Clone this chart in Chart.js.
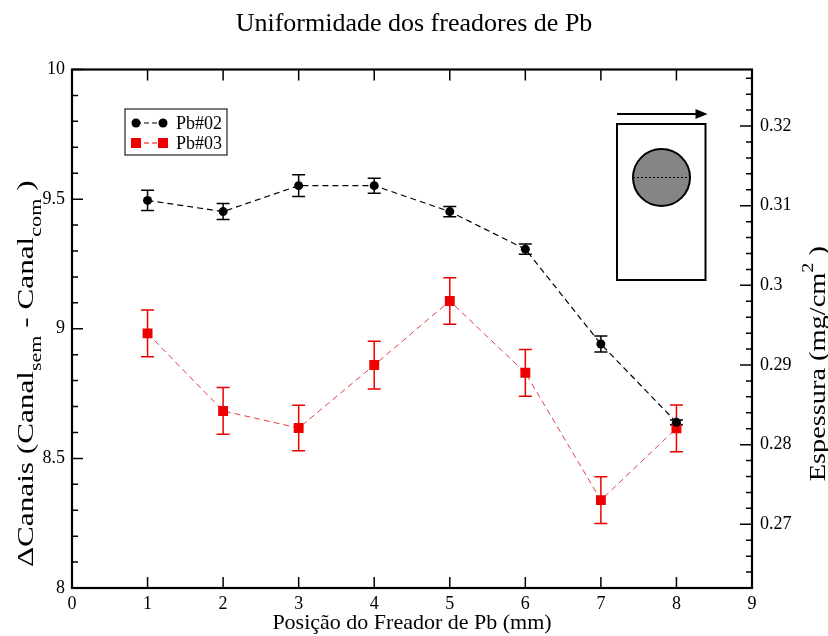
<!DOCTYPE html>
<html><head><meta charset="utf-8">
<script src="https://cdn.jsdelivr.net/npm/chart.js@4.4.1/dist/chart.umd.min.js"></script>
<style>html,body{margin:0;padding:0;background:#fff}#wrap{width:828px;height:636px}</style>
</head><body><div id="wrap"><canvas id="c" width="828" height="636"></canvas></div>
<script>
// ---- data ----
const positions = [1, 2, 3, 4, 5, 6, 7, 8];
const pb02 = [9.495, 9.452, 9.552, 9.552, 9.452, 9.307, 8.941, 8.639];
const pb02Err = [0.039, 0.031, 0.042, 0.029, 0.020, 0.020, 0.031, 0.009];
const pb03 = [8.982, 8.683, 8.617, 8.860, 9.107, 8.830, 8.339, 8.616];
const pb03Err = [0.090, 0.090, 0.088, 0.092, 0.090, 0.090, 0.090, 0.090];
const seriesNames = ['Pb#02', 'Pb#03'];
const xTickValues = [0, 1, 2, 3, 4, 5, 6, 7, 8, 9];
const yLeftTickValues = [8, 8.5, 9, 9.5, 10];
const yRightTickValues = [0.27, 0.28, 0.29, 0.30, 0.31, 0.32];
const titleText = 'Uniformidade dos freadores de Pb';
const xTitle = 'Posição do Freador de Pb (mm)';

const SERIF = '"Liberation Serif", "Times New Roman", serif';
const BLACK = '#000000';
const RED = '#ee0000';

const errorBars = {
  id: 'errorBars',
  beforeDatasetsDraw(chart) {
    const ctx = chart.ctx;
    const xs = chart.scales.x, ys = chart.scales.y;
    const sets = [[pb02, pb02Err, BLACK], [pb03, pb03Err, RED]];
    ctx.save();
    sets.forEach(([vals, errs, col]) => {
      ctx.strokeStyle = col; ctx.lineWidth = 1.5; ctx.setLineDash([]);
      vals.forEach((v, i) => {
        const px = xs.getPixelForValue(positions[i]);
        const top = ys.getPixelForValue(v + errs[i]);
        const bot = ys.getPixelForValue(v - errs[i]);
        ctx.beginPath();
        ctx.moveTo(px, top); ctx.lineTo(px, bot);
        ctx.moveTo(px - 6.5, top); ctx.lineTo(px + 6.5, top);
        ctx.moveTo(px - 6.5, bot); ctx.lineTo(px + 6.5, bot);
        ctx.stroke();
      });
    });
    ctx.restore();
  }
};

function richWidth(ctx, parts, baseSize) {
  let w = 0;
  parts.forEach(p => {
    const sz = p[1] === 'n' ? baseSize : Math.round(baseSize * 0.7);
    ctx.font = sz + 'px ' + SERIF;
    w += ctx.measureText(p[0]).width;
  });
  return w;
}
function drawRich(ctx, parts, baseSize, cx, cy, rot, stretch) {
  ctx.save();
  ctx.translate(cx, cy);
  ctx.rotate(rot);
  ctx.scale(stretch, 1);
  const w = richWidth(ctx, parts, baseSize);
  let x = -w / 2;
  ctx.fillStyle = '#000';
  ctx.textBaseline = 'alphabetic';
  ctx.textAlign = 'left';
  const base = baseSize * 0.35;
  parts.forEach(p => {
    const sz = p[1] === 'n' ? baseSize : Math.round(baseSize * 0.7);
    ctx.font = sz + 'px ' + SERIF;
    let dy = 0;
    if (p[1] === 'sub') dy = baseSize * 0.3;
    if (p[1] === 'sup') dy = -baseSize * 0.55;
    ctx.fillText(p[0], x, base + dy);
    x += ctx.measureText(p[0]).width;
  });
  ctx.restore();
}

const decorations = {
  id: 'decorations',
  afterDraw(chart) {
    const ctx = chart.ctx;
    const a = chart.chartArea;
    const xs = chart.scales.x, ys = chart.scales.y, y2 = chart.scales.y2;
    ctx.save();
    ctx.strokeStyle = '#000';
    ctx.setLineDash([]);
    // ticks (inward)
    ctx.lineWidth = 1.5;
    ctx.beginPath();
    xTickValues.forEach(v => {
      const px = xs.getPixelForValue(v);
      ctx.moveTo(px, a.bottom); ctx.lineTo(px, a.bottom - 11);
      ctx.moveTo(px, a.top); ctx.lineTo(px, a.top + 11);
    });
    for (let k = 0; k <= 20; k++) {
      const v = 8 + k * 0.1;
      const py = ys.getPixelForValue(v);
      const len = (k % 5 === 0) ? 11 : 6;
      ctx.moveTo(a.left, py); ctx.lineTo(a.left + len, py);
    }
    for (let k = 0; k <= 40; k++) {
      const v = 0.262 + k * 0.002;
      if (v > y2.max + 1e-9) break;
      const py = y2.getPixelForValue(v);
      const major = Math.abs(Math.round(v * 100) - v * 100) < 1e-6;
      const len = major ? 12 : 6;
      ctx.moveTo(a.right, py); ctx.lineTo(a.right - len, py);
    }
    ctx.stroke();
    // frame
    ctx.lineWidth = 2.2;
    ctx.strokeRect(a.left, a.top, a.right - a.left, a.bottom - a.top);

    // legend
    const lx = a.left + 53, ly = a.top + 39.5;
    ctx.lineWidth = 1.3;
    ctx.strokeStyle = '#333';
    ctx.strokeRect(lx, ly, 102, 46);
    const rows = [[BLACK, 'circle'], [RED, 'rect']];
    rows.forEach((r, i) => {
      const yy = ly + 14 + i * 20;
      ctx.strokeStyle = r[0]; ctx.lineWidth = 1.2; ctx.setLineDash([5, 3]);
      ctx.beginPath(); ctx.moveTo(lx + 11, yy); ctx.lineTo(lx + 38, yy); ctx.stroke();
      ctx.setLineDash([]);
      ctx.fillStyle = r[0];
      [lx + 11, lx + 38].forEach(mx => {
        if (r[1] === 'circle') { ctx.beginPath(); ctx.arc(mx, yy, 4.5, 0, Math.PI * 2); ctx.fill(); }
        else { ctx.fillRect(mx - 5, yy - 5, 10, 10); }
      });
      ctx.fillStyle = '#000';
      ctx.font = '18px ' + SERIF;
      ctx.textBaseline = 'middle'; ctx.textAlign = 'left';
      ctx.fillText(seriesNames[i], lx + 51, yy + 1);
    });

    // inset sketch: arrow, rectangle, disc
    const rx = a.left + 545, ry = a.top + 54.5, rw = 88.5, rh = 156;
    ctx.strokeStyle = '#000'; ctx.fillStyle = '#000'; ctx.lineWidth = 2;
    ctx.strokeRect(rx, ry, rw, rh);
    ctx.beginPath(); ctx.moveTo(rx, ry - 10); ctx.lineTo(rx + rw - 6, ry - 10); ctx.stroke();
    ctx.beginPath(); ctx.moveTo(rx + rw + 2, ry - 10); ctx.lineTo(rx + rw - 10, ry - 15); ctx.lineTo(rx + rw - 10, ry - 5); ctx.closePath(); ctx.fill();
    const ccx = rx + 44.5, ccy = ry + 53.5, cr = 28.5;
    ctx.beginPath(); ctx.arc(ccx, ccy, cr, 0, Math.PI * 2);
    ctx.fillStyle = '#858585'; ctx.fill();
    ctx.lineWidth = 2; ctx.stroke();
    ctx.setLineDash([2, 2]); ctx.lineWidth = 1;
    ctx.beginPath(); ctx.moveTo(ccx - cr, ccy); ctx.lineTo(ccx + cr, ccy); ctx.stroke();
    ctx.setLineDash([]);

    // axis titles with sub/superscripts
    drawRich(ctx, [['ΔCanais (Canal', 'n'], ['sem', 'sub'], [' - Canal', 'n'], ['com', 'sub'], [' )', 'n']], 24, 25, (a.top + a.bottom) / 2 + 45, -Math.PI / 2, 1.3);
    drawRich(ctx, [['Espessura (mg/cm', 'n'], ['2', 'sup'], [' )', 'n']], 22.5, 817, (a.top + a.bottom) / 2 + 35, -Math.PI / 2, 1.26);
    ctx.restore();
  }
};

const ctx = document.getElementById('c').getContext('2d');
new Chart(ctx, {
  type: 'scatter',
  data: {
    datasets: [
      {
        label: seriesNames[0],
        data: positions.map((x, i) => ({x, y: pb02[i]})),
        showLine: true, borderColor: BLACK, borderWidth: 1.2, borderDash: [6, 4],
        backgroundColor: BLACK, pointStyle: 'circle', pointRadius: 4.5, pointBorderWidth: 0,
        yAxisID: 'y'
      },
      {
        label: seriesNames[1],
        data: positions.map((x, i) => ({x, y: pb03[i]})),
        showLine: true, borderColor: '#e04040', borderWidth: 1, borderDash: [6, 4],
        backgroundColor: RED, pointStyle: 'rect', pointRadius: 7, pointBorderWidth: 0,
        pointBorderColor: RED, yAxisID: 'y'
      }
    ]
  },
  options: {
    responsive: false,
    animation: false,
    devicePixelRatio: 1,
    layout: {padding: 0},
    plugins: {
      legend: {display: false},
      tooltip: {enabled: false},
      title: {
        display: true, text: titleText, color: '#000',
        font: {family: SERIF, size: 26, weight: 'normal'},
        padding: {top: 9, bottom: 29.3}
      }
    },
    scales: {
      x: {
        type: 'linear', position: 'bottom', min: 0, max: 9,
        afterBuildTicks: s => { s.ticks = xTickValues.map(v => ({value: v})); },
        afterFit: s => { s.height = 48; },
        grid: {display: false, drawTicks: false},
        border: {display: false},
        ticks: {color: '#000', font: {family: SERIF, size: 18}, padding: 5, callback: v => String(v)},
        title: {display: true, text: xTitle, color: '#000', font: {family: SERIF, size: 22}, padding: 0}
      },
      y: {
        type: 'linear', position: 'left', min: 8, max: 10,
        afterBuildTicks: s => { s.ticks = yLeftTickValues.map(v => ({value: v})); },
        afterFit: s => { s.width = 72; },
        grid: {display: false, drawTicks: false},
        border: {display: false},
        ticks: {color: '#000', font: {family: SERIF, size: 18}, padding: 7, callback: v => String(v)}
      },
      y2: {
        type: 'linear', position: 'right', min: 0.2620, max: 0.3271,
        afterBuildTicks: s => { s.ticks = yRightTickValues.map(v => ({value: v})); },
        afterFit: s => { s.width = 76; },
        grid: {display: false, drawTicks: false},
        border: {display: false},
        ticks: {color: '#000', font: {family: SERIF, size: 18}, padding: 8, callback: v => String(+v.toFixed(2))}
      }
    }
  },
  plugins: [errorBars, decorations]
});
</script>
</body></html>
